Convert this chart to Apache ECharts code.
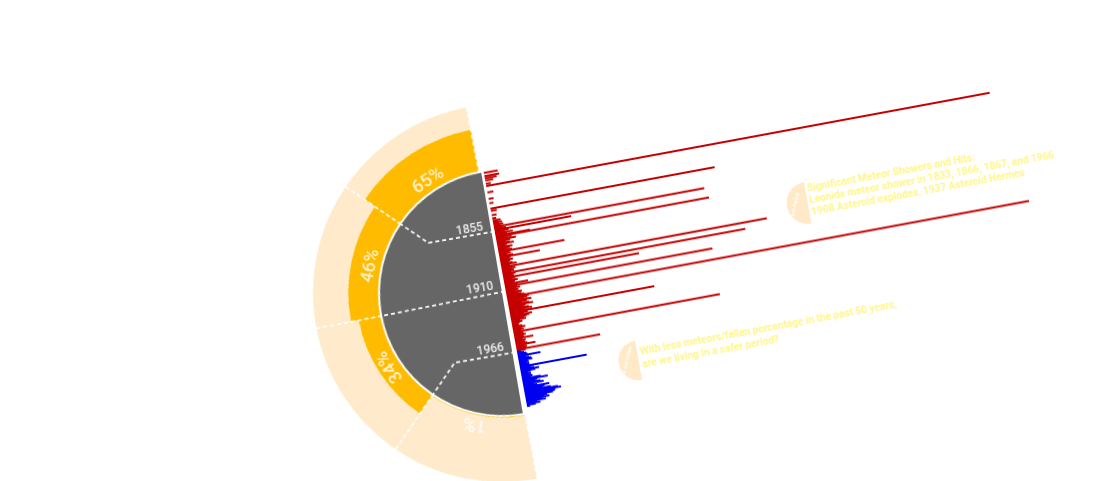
<!DOCTYPE html>
<html><head><meta charset="utf-8">
<script src="https://cdn.jsdelivr.net/npm/echarts@6/dist/echarts.min.js"></script>
<style>
html,body{margin:0;padding:0;width:1103px;height:481px;overflow:hidden;background:#fff;}
#bars,#polar{position:absolute;left:0;top:0;width:1200px;height:640px;transform-origin:502px 293px;}
#bars{transform:rotate(-10.5deg);}
#polar{transform:rotate(-9.8deg);}
</style></head><body>
<div id="bars"></div><div id="polar"></div>
<script>
// ---------- data ----------
const periods = ['1800–1855', '1855–1910', '1910–1966', '1966–2013'];
const fallenPct = [65, 46, 34, 1];
const dividerYears = ['1855', '1910', '1966'];
const firstYear = 1800, lastYear = 2022;
const redFirstYear = 1800;
const redValues = [
  0,14,0,0,15,0,12,0,8,0,
  0,5,0,512,0,0,0,0,0,6,
  0,0,0,0,0,5,0,0,0,4,
  0,0,0,0,228,0,6,0,0,0,
  5,0,0,4,0,8,5,9,6,10,
  7,214,9,12,78,14,10,18,12,35,
  217,16,11,20,14,9,13,17,10,8,
  15,12,9,14,67,10,12,8,14,41,
  11,9,13,10,8,12,16,9,270,11,
  14,10,12,9,247,13,10,11,138,12,
  9,14,11,10,24,13,211,12,15,11,
  13,10,16,12,15,18,531,22,20,16,
  24,19,14,21,25,17,15,20,23,16,
  147,18,14,22,19,16,13,15,9,11,
  8,6,7,10,13,9,11,8,210,9,
  10,12,9,10,19,8,11,9,10,12,
  20,9,11,10,85,9
];
const blueFirstYear = 1966;
const blueValues = [
  4,7,9,10,23,8,11,13,14,9,
  10,8,10,10,68,11,14,19,15,10,
  7,10,8,11,9,19,26,15,13,18,
  21,11,14,26,21,19,27,34,37,31,
  30,28,22,19,24,17,20,11,14,9,
  3
];
const note1 = ['Significant Meteor Showers and Hits:', 'Leonids meteor shower in 1833, 1866, 1867, and 1966', '1908 Asteroid explodes, 1937 Asteroid Hermes'];
const note2 = ['With less meteors/fallen percentage in the past 50 years,', 'are we living in a safer period?'];
const icon1Text = 'Peak Period';
const icon2Text = 'Safe and Fallen';

// ---------- build ----------
const years = [];
for (let y = firstYear; y <= lastYear; y++) years.push(String(y));
const redData = years.map(y => { const k = +y - redFirstYear; return (+y < blueFirstYear && k < redValues.length) ? redValues[k] : null; });
const blueData = years.map(y => { const k = +y - blueFirstYear; return (k >= 0 && k < blueValues.length) ? blueValues[k] : null; });

const C = { x: 502, y: 293 };
const HALF = 123;
const FONT = "Roboto,'Noto Sans',sans-serif";
const TXT = '#FFF68A';

const barChart = echarts.init(document.getElementById('bars'), null, { renderer: 'canvas' });
const g = [];
function addNote(lines, x, y0, lh) {
  lines.forEach((t, i) => g.push({ type: 'text', x: x, y: y0 + i * lh, z: 10,
    style: { text: t, fill: TXT, font: 'bold 10.2px ' + FONT, textAlign: 'left', textVerticalAlign: 'middle' } }));
}
function addIcon(cx, cy, r, label) {
  g.push({ type: 'sector', z: 9, shape: { cx: cx, cy: cy, r: r, startAngle: Math.PI / 2, endAngle: Math.PI * 1.5, clockwise: true },
    style: { fill: '#FFE9C6' } });
  g.push({ type: 'text', x: cx - r * 0.62, y: cy + 1, rotation: 1.15, z: 10,
    style: { text: label, fill: '#fff', font: 'bold 5px ' + FONT, textAlign: 'center', textVerticalAlign: 'middle' } });
}
addIcon(C.x + 317, C.y - 33, 21, icon1Text);
addNote(note1, C.x + 319, C.y - 47, 12);
addIcon(C.x + 122, C.y + 91, 20, icon2Text);
addNote(note2, C.x + 125, C.y + 83.5, 13);

barChart.setOption({
  backgroundColor: 'transparent',
  animation: false,
  grid: { left: C.x + 4, top: C.y - HALF, width: 600, height: HALF * 2 },
  xAxis: { type: 'value', min: 0, max: 600, show: false },
  yAxis: { type: 'category', data: years, inverse: true, show: false },
  series: [
    { type: 'bar', data: redData, barWidth: 2, barGap: '-100%', itemStyle: { color: '#C60000' }, silent: true },
    { type: 'bar', data: blueData, barWidth: 2, barGap: '-100%', itemStyle: { color: '#0000F0' }, silent: true }
  ],
  graphic: g
});

// ---------- polar part ----------
const R_IN = 124, R_OUT = 189, R_GRAY = 122;
const START = 91, SPAN = 180;
const seg = SPAN / periods.length;
const polarChart = echarts.init(document.getElementById('polar'), null, { renderer: 'canvas' });

const pg = [];
dividerYears.forEach((yr, i) => {
  const py = barChart.convertToPixel({ gridIndex: 0 }, [0, yr])[1];
  const dy = py - C.y;
  const phi = (START - 90 + seg * (i + 1)) * Math.PI / 180;
  const ux = -Math.sin(phi), uy = -Math.cos(phi);
  const pts = [[C.x + 3, py]];
  const t = dy / uy;
  if (t > 0 && t < R_GRAY) pts.push([C.x + t * ux, py]);
  pts.push([C.x + R_IN * ux, C.y + R_IN * uy]);
  pg.push({ type: 'polyline', z: 20, shape: { points: pts },
    style: { stroke: '#fff', lineWidth: 1.7, lineDash: [4, 3], fill: null } });
  pg.push({ type: 'text', x: C.x - 21, y: py - 6.5, z: 21,
    style: { text: yr, fill: '#EEEEEE', font: '500 12px ' + FONT, textAlign: 'center', textVerticalAlign: 'middle' } });
});

polarChart.setOption({
  backgroundColor: 'transparent',
  animation: false,
  polar: { center: [C.x, C.y], radius: [R_IN, R_OUT] },
  angleAxis: {
    type: 'category', data: periods, startAngle: START, endAngle: START + SPAN, clockwise: false, z: 10,
    axisLine: { show: false }, axisTick: { show: false }, axisLabel: { show: false },
    splitLine: { show: true, lineStyle: { color: '#fff', width: 1.7, type: [4, 3] } }
  },
  radiusAxis: { type: 'value', min: 0, max: 100, show: false },
  series: [
    { type: 'pie', center: [C.x, C.y], radius: [0, R_GRAY], startAngle: 90, clockwise: false, silent: true, z: 1,
      label: { show: false }, labelLine: { show: false }, itemStyle: { borderWidth: 0 },
      data: [{ value: 1, itemStyle: { color: '#666666' } }, { value: 1, itemStyle: { color: 'rgba(0,0,0,0)' } }] },
    { type: 'bar', coordinateSystem: 'polar', stack: 'ring', data: fallenPct, barCategoryGap: '0%', silent: true,
      itemStyle: { color: '#FFBB00' } },
    { type: 'bar', coordinateSystem: 'polar', stack: 'ring', data: fallenPct.map(p => 100 - p), barCategoryGap: '0%', silent: true,
      itemStyle: { color: '#FFEBCC' } },
    { type: 'scatter', coordinateSystem: 'polar', symbolSize: 0, silent: true, z: 30,
      data: fallenPct.map((p, i) => ({ value: [15.5, i], label: { rotate: START - 90 + seg * (i + 0.5) } })),
      label: { show: true, position: 'inside', formatter: p => fallenPct[p.dataIndex] + '%', color: '#fff', fontSize: 18, fontWeight: 500, fontFamily: 'Roboto' } }
  ],
  graphic: pg
});
</script>
</body></html>
